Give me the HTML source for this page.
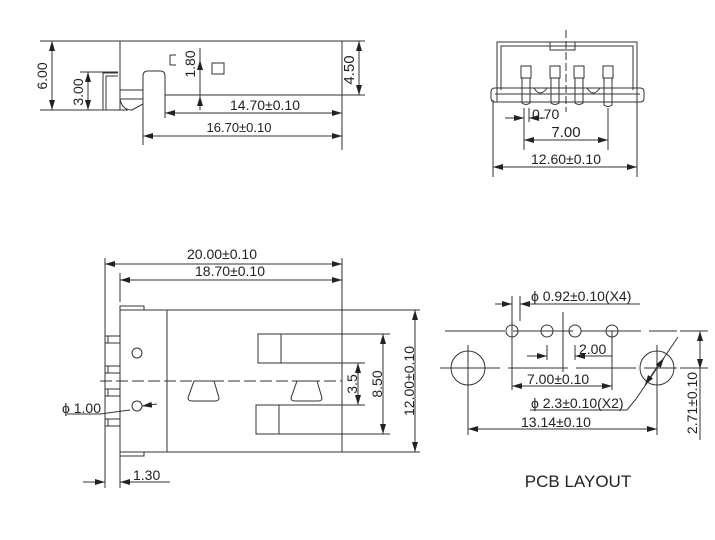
<!DOCTYPE html>
<html><head><meta charset="utf-8"><style>
html,body{margin:0;padding:0;background:#fff}
svg{display:block}
text{font-family:"Liberation Sans",Arial,sans-serif;fill:#222}
</style></head><body>
<svg width="715" height="540" viewBox="0 0 715 540" xmlns="http://www.w3.org/2000/svg">
<defs>
<marker id="a" viewBox="0 0 10 6" refX="10" refY="3" markerWidth="10" markerHeight="6" orient="auto-start-reverse" markerUnits="userSpaceOnUse"><path d="M0,0 L10,3 L0,6 z" fill="#222"/></marker>
</defs>
<g stroke="#333" stroke-width="1" fill="none">
<line x1="40" y1="41" x2="342" y2="41"/>
<line x1="120" y1="41" x2="120" y2="110"/>
<line x1="342" y1="41" x2="342" y2="150"/>
<line x1="342" y1="41" x2="365" y2="41"/>
<line x1="165" y1="95" x2="365" y2="95"/>
<line x1="40" y1="110" x2="128" y2="110"/>
<line x1="52" y1="41" x2="52" y2="110" marker-start="url(#a)" marker-end="url(#a)"/>
<line x1="80" y1="72" x2="118" y2="72"/>
<line x1="88" y1="72" x2="88" y2="110" marker-start="url(#a)" marker-end="url(#a)"/>
<path d="M103,110 V73 H118 M106,110 V76 H118"/>
<line x1="120" y1="90" x2="143" y2="90"/>
<line x1="120" y1="99" x2="143" y2="99"/>
<path d="M120,99 Q122,110 132,110 L143,104"/>
<path d="M143,118 V76 Q143,71 148,71 H160 Q165,71 165,76 V118"/>
<line x1="359" y1="41" x2="359" y2="95" marker-start="url(#a)" marker-end="url(#a)"/>
<line x1="200" y1="48" x2="200" y2="110"/>
<line x1="200" y1="72" x2="200" y2="60" marker-end="url(#a)"/>
<line x1="200" y1="96" x2="200" y2="110" marker-start="url(#a)"/>
<path d="M170,55 V65 M170,55 H176 M170,65 H176"/>
<rect x="212" y="63" width="12" height="11"/>
<line x1="165" y1="113" x2="342" y2="113" marker-start="url(#a)" marker-end="url(#a)"/>
<line x1="143" y1="136" x2="342" y2="136" marker-start="url(#a)" marker-end="url(#a)"/>
<line x1="143" y1="118" x2="143" y2="145"/>

<path d="M497,102 V42 H637 V102"/>
<path d="M501,90 V46 H633 V90"/>
<path d="M491,92 Q491,88 495,88 H640 Q644,88 644,92 V98 Q644,102 640,102 H495 Q491,102 491,98 Z"/>
<line x1="495" y1="94" x2="640" y2="94"/>
<rect x="550" y="42" width="25" height="8"/>
<line x1="566" y1="30" x2="566" y2="112" stroke-dasharray="8,3"/>
<rect x="521" y="66" width="10" height="12"/><path d="M522,78 V103 Q526,106 530,103 V78"/>
<rect x="550" y="66" width="10" height="12"/><path d="M551,78 V103 Q555,106 559,103 V78"/>
<rect x="574" y="66" width="10" height="12"/><path d="M575,78 V103 Q579,106 583,103 V78"/>
<rect x="603" y="66" width="10" height="12"/><path d="M604,78 V105 Q608,108 612,105 V78"/>
<path d="M534,88 Q540,98 547,88 M587,88 Q593,98 600,88"/>
<line x1="524" y1="108" x2="524" y2="150"/>
<line x1="529" y1="108" x2="529" y2="122"/>
<line x1="505" y1="118" x2="524" y2="118" marker-end="url(#a)"/>
<line x1="545" y1="118" x2="529" y2="118" marker-end="url(#a)"/>
<line x1="608" y1="108" x2="608" y2="150"/>
<line x1="524" y1="140" x2="608" y2="140" marker-start="url(#a)" marker-end="url(#a)"/>
<line x1="493" y1="100" x2="493" y2="177"/>
<line x1="637" y1="100" x2="637" y2="177"/>
<line x1="493" y1="167" x2="637" y2="167" marker-start="url(#a)" marker-end="url(#a)"/>

<line x1="105" y1="258" x2="105" y2="488"/>
<line x1="342" y1="258" x2="342" y2="452"/>
<line x1="120" y1="273" x2="120" y2="302"/>
<line x1="105" y1="264" x2="342" y2="264" marker-start="url(#a)" marker-end="url(#a)"/>
<line x1="120" y1="280" x2="342" y2="280" marker-start="url(#a)" marker-end="url(#a)"/>
<rect x="120" y="310" width="47" height="142"/>
<rect x="167" y="310" width="175" height="142"/>
<rect x="120" y="306" width="24" height="4"/>
<rect x="120" y="452" width="24" height="4"/>
<line x1="120" y1="456" x2="120" y2="488"/>
<rect x="105" y="336" width="15" height="7"/><line x1="108" y1="336" x2="108" y2="343"/>
<rect x="105" y="366" width="15" height="7"/><line x1="108" y1="366" x2="108" y2="373"/>
<rect x="105" y="389" width="15" height="7"/><line x1="108" y1="389" x2="108" y2="396"/>
<rect x="105" y="419" width="15" height="7"/><line x1="108" y1="419" x2="108" y2="426"/>
<line x1="100" y1="381" x2="342" y2="381" stroke-dasharray="12,4"/>
<circle cx="137" cy="353" r="5"/>
<circle cx="137" cy="406" r="5"/>
<path d="M194,381 H214 L219,398 Q219,401 215,401 H192 Q188,401 188,398 Z"/>
<path d="M297,381 H317 L322,398 Q322,401 318,401 H295 Q291,401 291,398 Z"/>
<rect x="258" y="334" width="84" height="29"/><line x1="281" y1="334" x2="281" y2="363"/>
<rect x="256" y="405" width="86" height="29"/><line x1="279" y1="405" x2="279" y2="434"/>
<line x1="342" y1="363" x2="365" y2="363"/>
<line x1="342" y1="405" x2="365" y2="405"/>
<line x1="358" y1="363" x2="358" y2="405" marker-start="url(#a)" marker-end="url(#a)"/>
<line x1="342" y1="334" x2="390" y2="334"/>
<line x1="342" y1="434" x2="390" y2="434"/>
<line x1="383" y1="334" x2="383" y2="434" marker-start="url(#a)" marker-end="url(#a)"/>
<line x1="342" y1="310" x2="420" y2="310"/>
<line x1="342" y1="452" x2="420" y2="452"/>
<line x1="415" y1="310" x2="415" y2="452" marker-start="url(#a)" marker-end="url(#a)"/>
<path d="M67,414 H100 L130,410"/>
<line x1="157" y1="404" x2="142" y2="406" marker-end="url(#a)"/>
<line x1="83" y1="482" x2="105" y2="482" marker-end="url(#a)"/>
<line x1="170" y1="482" x2="120" y2="482" marker-end="url(#a)"/>

<line x1="445" y1="331" x2="677" y2="331" stroke-dasharray="60,8"/>
<line x1="680" y1="331" x2="708" y2="331"/>
<line x1="440" y1="368" x2="677" y2="368" stroke-dasharray="60,8"/>
<line x1="680" y1="368" x2="708" y2="368"/>
<circle cx="512" cy="331" r="6"/><circle cx="547" cy="331" r="6"/><circle cx="575" cy="331" r="6"/><circle cx="612" cy="331" r="6"/>
<circle cx="468" cy="368" r="17"/><circle cx="657" cy="368" r="17"/>
<line x1="468" y1="345" x2="468" y2="435"/>
<line x1="657" y1="345" x2="657" y2="435"/>
<line x1="512" y1="296" x2="512" y2="390"/>
<line x1="520" y1="296" x2="520" y2="321"/>
<line x1="495" y1="304" x2="512" y2="304" marker-end="url(#a)"/>
<line x1="540" y1="304" x2="520" y2="304" marker-end="url(#a)"/>
<line x1="527" y1="304" x2="640" y2="304"/>
<line x1="563" y1="312" x2="563" y2="372"/>
<line x1="547" y1="345" x2="547" y2="360"/>
<line x1="575" y1="345" x2="575" y2="360"/>
<line x1="527" y1="356" x2="547" y2="356" marker-end="url(#a)"/>
<line x1="612" y1="356" x2="575" y2="356" marker-end="url(#a)"/>
<line x1="612" y1="331" x2="612" y2="390"/>
<line x1="512" y1="386" x2="612" y2="386" marker-start="url(#a)" marker-end="url(#a)"/>
<line x1="678" y1="337" x2="636" y2="399"/>
<line x1="650" y1="378" x2="664" y2="358" marker-end="url(#a)"/>
<line x1="657" y1="367" x2="645" y2="385" marker-end="url(#a)"/>
<path d="M636,399 L627,410 H530"/>
<line x1="468" y1="429" x2="657" y2="429" marker-start="url(#a)" marker-end="url(#a)"/>
<line x1="700" y1="331" x2="700" y2="369" marker-start="url(#a)" marker-end="url(#a)"/>
<line x1="700" y1="369" x2="700" y2="440"/>
</g>

<g font-size="14">
<text x="47" y="76" transform="rotate(-90 47 76)" text-anchor="middle">6.00</text>
<text x="83" y="92" transform="rotate(-90 83 92)" text-anchor="middle">3.00</text>
<text x="195" y="64" transform="rotate(-90 195 64)" text-anchor="middle">1.80</text>
<text x="354" y="70" transform="rotate(-90 354 70)" text-anchor="middle" font-size="15">4.50</text>
<text x="265" y="110" text-anchor="middle">14.70±0.10</text>
<text x="239" y="132" text-anchor="middle" font-size="13">16.70±0.10</text>
<text x="532" y="119">0.70</text>
<text x="566" y="137" text-anchor="middle" font-size="15">7.00</text>
<text x="566" y="164" text-anchor="middle">12.60±0.10</text>
<text x="222" y="259" text-anchor="middle">20.00±0.10</text>
<text x="230" y="276" text-anchor="middle">18.70±0.10</text>
<text x="357" y="384" transform="rotate(-90 357 384)" text-anchor="middle">3.5</text>
<text x="382" y="384" transform="rotate(-90 382 384)" text-anchor="middle">8.50</text>
<text x="414" y="381" transform="rotate(-90 414 381)" text-anchor="middle">12.00±0.10</text>
<text x="62" y="413">ϕ 1.00</text>
<text x="133" y="480">1.30</text>
<text x="531" y="301">ϕ 0.92±0.10(X4)</text>
<text x="579" y="354">2.00</text>
<text x="527" y="384">7.00±0.10</text>
<text x="531" y="408">ϕ 2.3±0.10(X2)</text>
<text x="521" y="427">13.14±0.10</text>
<text x="697" y="403" transform="rotate(-90 697 403)" text-anchor="middle">2.71±0.10</text>
<text x="578" y="487" text-anchor="middle" font-size="17">PCB LAYOUT</text>
</g>
</svg>
</body></html>
